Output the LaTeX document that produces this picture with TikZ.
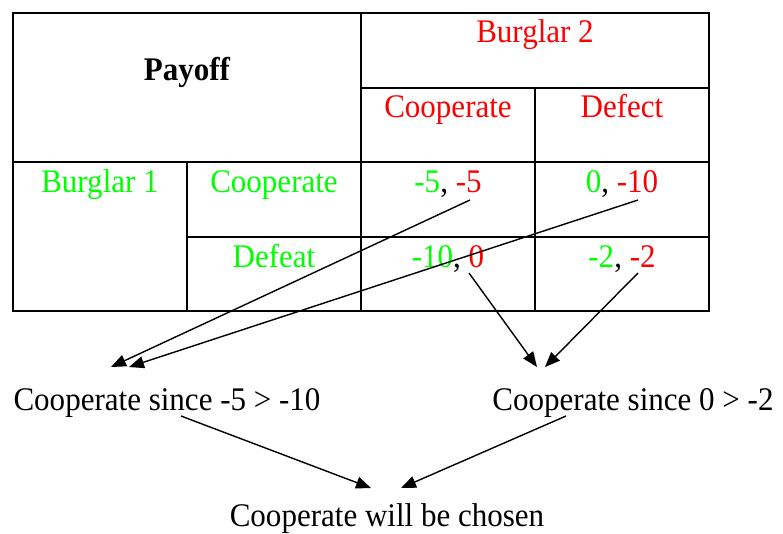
\documentclass[tikz,border=0pt]{standalone}
\usepackage{fontspec}
\setmainfont{Liberation Serif}
\usetikzlibrary{arrows.meta}
\definecolor{gr}{RGB}{0,255,0}
\definecolor{rd}{RGB}{255,0,0}
\tikzset{
  grid/.style={line width=1.6pt},
  txt/.style={anchor=base, inner sep=0pt, xscale=0.94, transform shape, font=\fontsize{33}{38}\selectfont},
  arr/.style={line width=1.4pt, -{Triangle[length=15pt,width=12pt]}}
}
\begin{document}
\begin{tikzpicture}[x=1pt,y=-1pt]
\useasboundingbox (0,0) rectangle (783,533);
% table
\draw[grid] (13,13) rectangle (709,311);
\draw[grid] (361,13) -- (361,311);
\draw[grid] (361,88) -- (709,88);
\draw[grid] (535,88) -- (535,311);
\draw[grid] (13,162) -- (709,162);
\draw[grid] (187,162) -- (187,311);
\draw[grid] (187,237) -- (709,237);
% texts
\node[txt, font=\fontsize{33}{38}\selectfont\bfseries] (payoff) at (187,80) {Payoff};
\node[txt, text=rd] (b2) at (535,42) {Burglar 2};
\node[txt, text=rd] (c2) at (448,117) {Cooperate};
\node[txt, text=rd] (d2) at (622,117) {Defect};
\node[txt, text=gr] (b1) at (100,192) {Burglar 1};
\node[txt, text=gr] (c1) at (274,192) {Cooperate};
\node[txt, text=gr] (d1) at (274,267) {Defeat};
\node[txt] (p11) at (448,192) {\textcolor{gr}{-5}, \textcolor{rd}{-5}};
\node[txt] (p12) at (622,192) {\textcolor{gr}{0}, \textcolor{rd}{-10}};
\node[txt] (p21) at (448,267) {\textcolor{gr}{-10}, \textcolor{rd}{0}};
\node[txt] (p22) at (622,267) {\textcolor{gr}{-2}, \textcolor{rd}{-2}};
\node[txt] (left) at (167,410) {Cooperate since -5 > -10};
\node[txt] (right) at (633,410) {Cooperate since 0 > -2};
\node[txt] (final) at (387,526) {Cooperate will be chosen};
% arrow endpoints
\coordinate (s1) at (470,200);
\coordinate (s2) at (638,200);
\coordinate (s3) at (469,273);
\coordinate (s4) at (638,273);
\coordinate (t1) at (111,367);
\coordinate (t2) at (129,367);
\coordinate (t3) at (537,367);
\coordinate (t4) at (545,367);
\coordinate (s5) at (181,416);
\coordinate (s6) at (566,416);
\coordinate (t5) at (371,488);
\coordinate (t6) at (401,488);
\draw[arr] (s1) -- (t1);
\draw[arr] (s2) -- (t2);
\draw[arr] (s3) -- (t3);
\draw[arr] (s4) -- (t4);
\draw[arr] (s5) -- (t5);
\draw[arr] (s6) -- (t6);
\end{tikzpicture}
\end{document}
